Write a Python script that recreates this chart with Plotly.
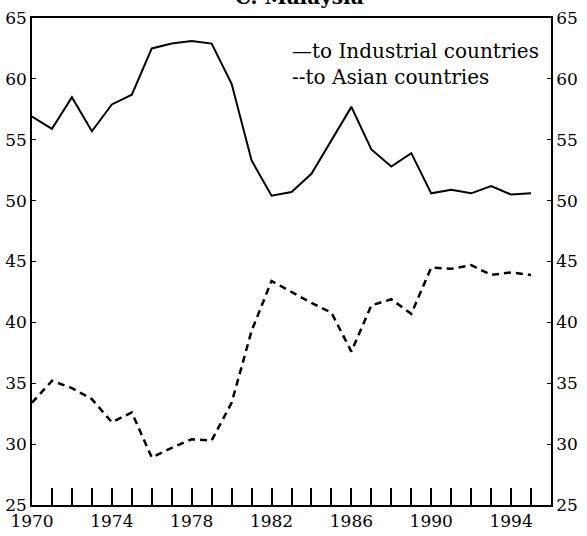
import plotly.graph_objects as go

# Malaysia: export shares (%)
years = list(range(1970, 1996))
industrial = [56.9, 55.9, 58.5, 55.7, 57.9, 58.7, 62.5, 62.9, 63.1, 62.9,
              59.6, 53.3, 50.4, 50.7, 52.2, 54.9, 57.7, 54.2, 52.8, 53.9,
              50.6, 50.9, 50.6, 51.2, 50.5, 50.6]
asian = [33.4, 35.2, 34.6, 33.7, 31.8, 32.6, 28.9, 29.7, 30.4, 30.3,
         33.4, 39.3, 43.4, 42.5, 41.6, 40.8, 37.6, 41.4, 41.9, 40.7,
         44.5, 44.4, 44.7, 43.9, 44.1, 43.9]
x_labels = [str(y) if (y - 1970) % 4 == 0 else "" for y in years]
y_ticks = [25, 30, 35, 40, 45, 50, 55, 60, 65]

FONT = "DejaVu Serif"

fig = go.Figure()
fig.add_trace(go.Scatter(x=years, y=industrial, mode="lines", name="to Industrial countries",
                         line=dict(color="black", width=2)))
fig.add_trace(go.Scatter(x=years, y=asian, mode="lines", name="to Asian countries", yaxis="y2",
                         line=dict(color="black", width=2.5, dash="7px,5px")))

axis_common = dict(showgrid=False, zeroline=False, showline=True, linecolor="black",
                   linewidth=1.5, tickcolor="black", automargin=False,
                   tickfont=dict(size=17))

fig.update_layout(
    width=587, height=536,
    margin=dict(l=32, r=36, t=18, b=31),
    paper_bgcolor="white", plot_bgcolor="white",
    showlegend=False,
    font=dict(family=FONT, size=17, color="black"),
    xaxis=dict(range=[1970, 1996], tickvals=years, ticktext=x_labels,
               ticks="inside", ticklen=17, tickwidth=1.5, mirror=True, **axis_common),
    yaxis=dict(range=[25, 65], tickvals=y_ticks, ticks="inside", ticklen=4, **axis_common),
    yaxis2=dict(range=[25, 65], tickvals=y_ticks, ticks="inside", ticklen=4,
                overlaying="y", side="right", **axis_common),
)

# legend drawn as text, like the original print
fig.add_annotation(text="\u2014to Industrial countries", xref="paper", yref="paper",
                   x=0.497, y=0.932, xanchor="left", yanchor="middle", showarrow=False,
                   font=dict(size=20))
fig.add_annotation(text="--to Asian countries", xref="paper", yref="paper",
                   x=0.497, y=0.879, xanchor="left", yanchor="middle", showarrow=False,
                   font=dict(size=20))

# title, mostly cut off at the top of the scan
fig.add_annotation(text="<b>C. Malaysia</b>", xref="paper", yref="paper",
                   x=0.516, y=1.014, xanchor="center", yanchor="bottom", showarrow=False,
                   font=dict(size=20))

# drop the browser's default body margin so the figure sits at the page corner
fig.write_html("out.html", config={"displayModeBar": False},
               post_script="document.body.style.margin='0';")
